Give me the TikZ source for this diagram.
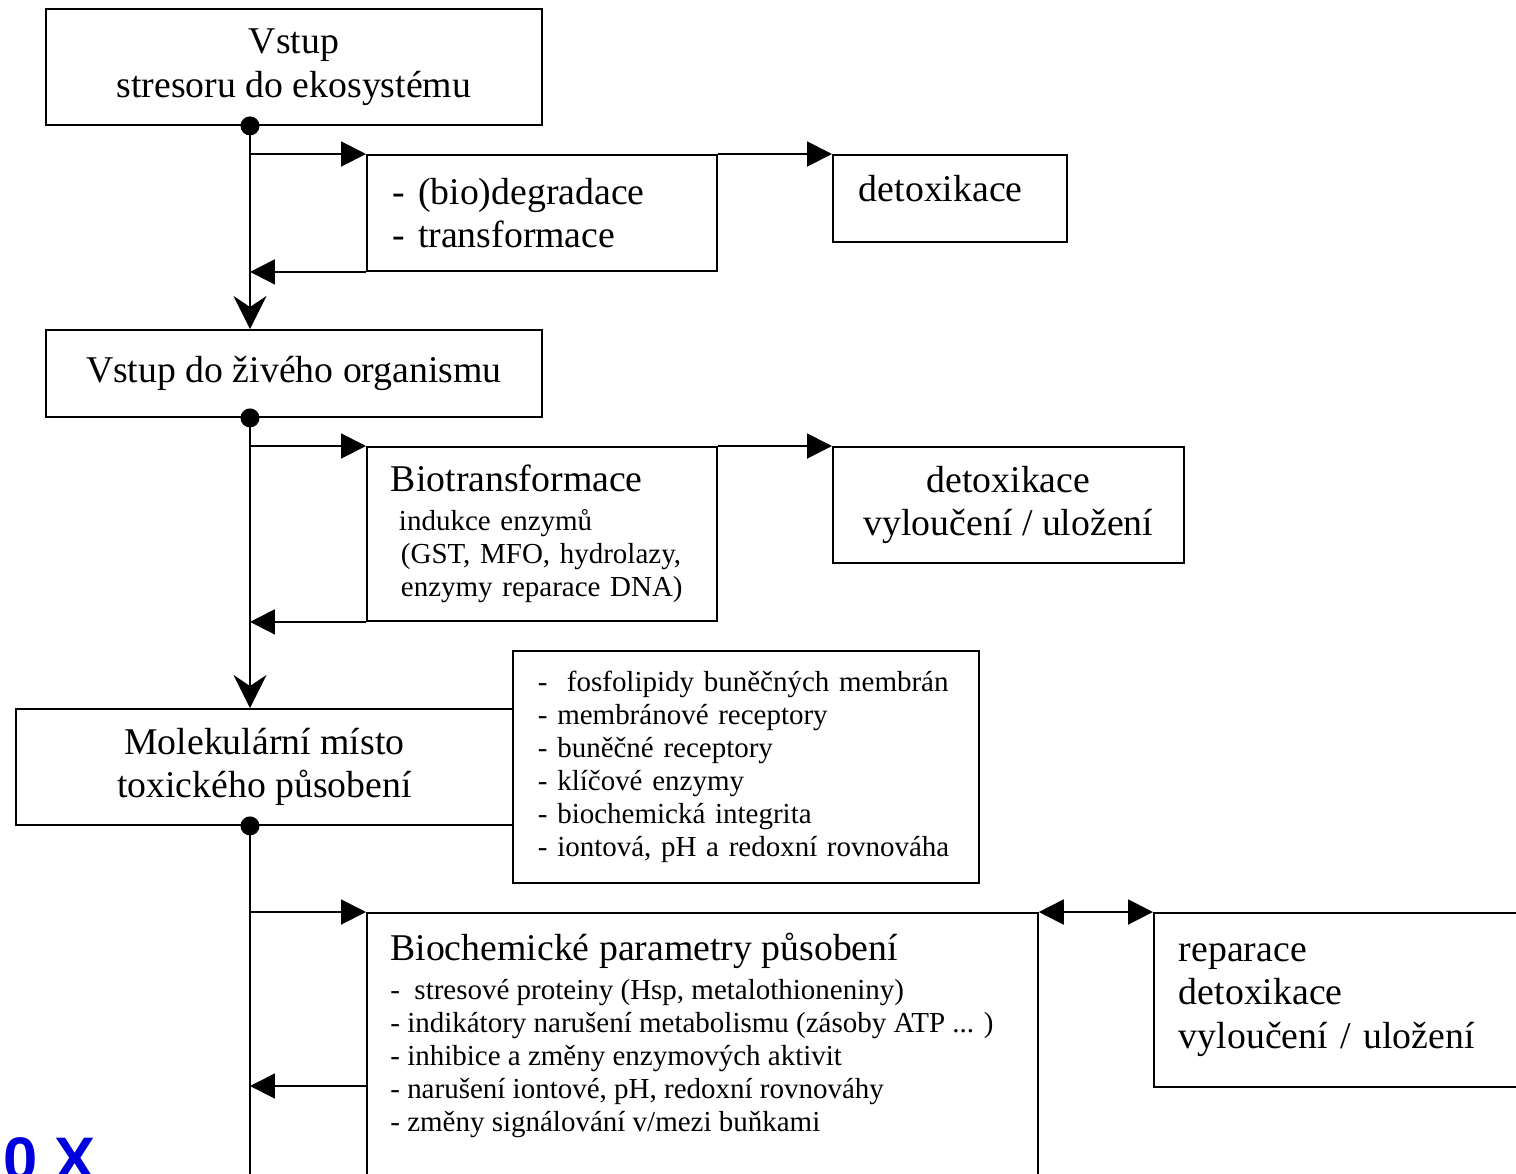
\documentclass[tikz,border=0pt]{standalone}
\usepackage{fontspec}
\setmainfont{Liberation Serif}
\newfontfamily\znakfont{Liberation Sans}
\usepackage{tikz}
\usetikzlibrary{arrows.meta, positioning}
\definecolor{modra}{RGB}{0, 0, 220}
\newcommand{\velky}{\fontsize{21.5}{24.8}\selectfont}
\newcommand{\maly}{\fontsize{16.5}{18.8}\selectfont}

\begin{document}
\begin{tikzpicture}[x=0.02cm, y=-0.02cm,
    blok/.style={draw, line width=1.1pt, anchor=north west, inner sep=0pt, font=\velky},
    sipka/.style={line width=1.1pt, -{Triangle[length=0.5cm, width=0.5cm]}},
    obe/.style={line width=1.1pt, {Triangle[length=0.5cm, width=0.5cm]}-{Triangle[length=0.5cm, width=0.5cm]}},
    dolu/.style={line width=1.1pt, -{Stealth[length=0.66cm, width=0.66cm, inset=0.22cm]}},
    tecka/.style={circle, fill, inner sep=0pt, minimum size=0.38cm}]
  \useasboundingbox (0,0) rectangle (1516,1174);
  \clip (0,0) rectangle (1516,1174);
  \coordinate (kmen) at (250,0);
  \coordinate (dno) at (250,1200);
  % boxes
  \node[blok, minimum width=9.92cm, minimum height=2.32cm, align=center]
    (vstup) at (45,8) {Vstup\\stresoru do ekosystému};
  \node[blok, minimum width=7cm, minimum height=2.32cm, text width=5.96cm,
        inner xsep=0.52cm, align=left]
    (degr) at (366,154) {- (bio)degradace\\- transformace};
  \node[blok, minimum width=4.68cm, minimum height=1.74cm, text width=3.64cm,
        inner xsep=0.52cm, text depth=0.4cm, align=left]
    (detoxa) at (832,154) {detoxikace};
  \node[blok, minimum width=9.92cm, minimum height=1.74cm, align=center]
    (organ) at (45,329) {Vstup do živého organismu};
  \node[blok, font=\maly, minimum width=7cm, minimum height=3.48cm, text width=6.04cm,
        inner xsep=0.48cm, align=left]
    (biotr) at (366,446) {{\velky Biotransformace}\\[3pt]
      \hspace*{0.16cm}indukce enzymů\\
      \hspace*{0.2cm}(GST, MFO, hydrolazy,\\
      \hspace*{0.2cm}enzymy reparace DNA)};
  \node[blok, minimum width=7.02cm, minimum height=2.32cm, align=center]
    (detoxb) at (832,446) {detoxikace\\vyloučení / uložení};
  \node[blok, minimum width=9.94cm, minimum height=2.32cm, align=center]
    (misto) at (15,708) {Molekulární místo\\toxického působení};
  \node[blok, font=\maly, minimum width=9.32cm, minimum height=4.64cm, text width=8.32cm,
        inner xsep=0.5cm, align=left]
    (cile) at (512,650) {-\ \ fosfolipidy buněčných membrán\\
      - membránové receptory\\
      - buněčné receptory\\
      - klíčové enzymy\\
      - biochemická integrita\\
      - iontová, pH a redoxní rovnováha};
  \node[blok, minimum width=13.42cm, minimum height=6cm] (param) at (366,912) {};
  \node[font=\maly, align=left, anchor=north west, inner sep=0pt]
    (paramtxt) at ([xshift=0.48cm, yshift=-0.42cm]param.north west)
    {{\velky Biochemické parametry působení}\\[3pt]
      -\ \ stresové proteiny (Hsp, metalothioneniny)\\
      - indikátory narušení metabolismu (zásoby ATP ... )\\
      - inhibice a změny enzymových aktivit\\
      - narušení iontové, pH, redoxní rovnováhy\\
      - změny signálování v/mezi buňkami};
  \node[blok, minimum width=8cm, minimum height=3.48cm, text width=7cm,
        inner xsep=0.5cm, align=left]
    (repar) at (1153,912) {reparace\\detoxikace\\vyloučení / uložení};
  % dots
  \node[tecka] (t1) at (vstup.south -| kmen) {};
  \node[tecka] (t2) at (organ.south -| kmen) {};
  \node[tecka] (t3) at (misto.south -| kmen) {};
  % trunk
  \draw[dolu] (t1.center) -- (organ.north -| kmen);
  \draw[dolu] (t2.center) -- (misto.north -| kmen);
  \draw[line width=1.1pt] (t3.center) -- (dno);
  % branches
  \draw[sipka] (degr.north west -| kmen) -- (degr.north west);
  \draw[sipka] (degr.south west) -- (degr.south west -| kmen);
  \draw[sipka] (degr.north east) -- (detoxa.north west);
  \draw[sipka] (biotr.north west -| kmen) -- (biotr.north west);
  \draw[sipka] (biotr.south west) -- (biotr.south west -| kmen);
  \draw[sipka] (biotr.north east) -- (detoxb.north west);
  \draw[sipka] (param.north west -| kmen) -- (param.north west);
  \draw[sipka] (param.west |- 0,1086) -- (kmen |- 0,1086);
  \draw[obe] (param.north east) -- (repar.north west);
  % corner mark
  \node[font=\znakfont\bfseries\fontsize{35}{40}\selectfont, text=modra,
        anchor=base west, inner sep=0pt] (znak) at (3,1180) {0 X};
\end{tikzpicture}
\end{document}
